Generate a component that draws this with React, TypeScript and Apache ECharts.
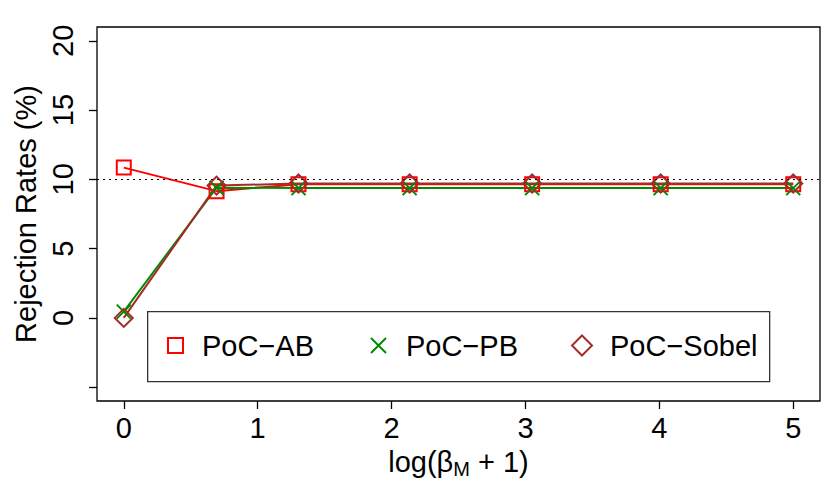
import React, { useEffect, useRef } from 'react';
import * as echarts from 'echarts';

const xValues = [0, 0.693, 1.305, 2.135, 3.05, 4.01, 5.0];
const pocAB = [10.85, 9.15, 9.65, 9.65, 9.65, 9.65, 9.65];
const pocPB = [0.45, 9.4, 9.37, 9.37, 9.37, 9.37, 9.37];
const pocSobel = [0, 9.55, 9.7, 9.7, 9.7, 9.7, 9.7];
const xTicks = [0, 1, 2, 3, 4, 5];
const yTicks = [-5, 0, 5, 10, 15, 20];
const yLabels = [0, 5, 10, 15, 20];
const refLevel = 10;
const seriesNames = ['PoC\u2212AB', 'PoC\u2212PB', 'PoC\u2212Sobel'];

const FONT = '"Liberation Sans", Arial, Helvetica, sans-serif';
const RED = '#FF0000';
const GREEN = '#008B00';
const BROWN = '#A52A2A';
const CROSS = 'path://M0,0L10,10M10,0L0,10';

const pairs = (ys: number[]) => xValues.map((x, i) => [x, ys[i]]);

const legendIcons = ['rect', CROSS, 'diamond'];
const legendColors = [RED, GREEN, BROWN];
const legendLefts = [167, 370, 571];
const legendSizes = [15, 15, 20];
const legendPads = [14, 15, 13];

export default function App() {
  const ref = useRef<HTMLDivElement>(null);
  useEffect(() => {
    if (!ref.current) return;
    const chart = echarts.init(ref.current, undefined, { renderer: 'svg' });
    const legends = seriesNames.map((name, i) => ({
      left: legendLefts[i],
      top: 331,
      orient: 'horizontal',
      padding: 0,
      itemWidth: legendSizes[i],
      itemHeight: legendSizes[i],
      selectedMode: false,
      textStyle: { fontSize: 29, color: '#000', fontFamily: FONT, padding: [0, 0, 0, legendPads[i]] },
      data: [
        {
          name,
          icon: legendIcons[i],
          itemStyle: { color: 'transparent', borderColor: legendColors[i], borderWidth: 2 },
        },
      ],
    }));
    const option: any = {
      animation: false,
      backgroundColor: '#fff',
      grid: {
        left: 97,
        top: 27,
        right: 10,
        bottom: 88,
        show: true,
        borderColor: '#000',
        borderWidth: 1.3,
        backgroundColor: 'transparent',
      },
      graphic: [
        {
          type: 'rect',
          left: 147,
          top: 311,
          z: 3,
          shape: { width: 622, height: 70 },
          style: { fill: '#fff', stroke: '#333', lineWidth: 1.3 },
        },
      ],
      xAxis: {
        type: 'value',
        min: -0.2,
        max: 5.2,
        axisLine: { show: false, onZero: false },
        splitLine: { show: false },
        axisTick: {
          show: true,
          length: 8,
          customValues: xTicks,
          lineStyle: { color: '#000', width: 1.3 },
        },
        axisLabel: {
          customValues: xTicks,
          margin: 12,
          fontSize: 29,
          color: '#000',
          fontFamily: FONT,
        },
        name: '{a|log(β}{s|M}{a| + 1)}',
        nameLocation: 'middle',
        nameGap: 44,
        nameTextStyle: {
          rich: {
            a: { fontSize: 29, fontFamily: FONT, color: '#000', lineHeight: 34, verticalAlign: 'middle' },
            s: { fontSize: 20, fontFamily: FONT, color: '#000', lineHeight: 22, verticalAlign: 'bottom' },
          },
        },
      },
      yAxis: {
        type: 'value',
        min: -6,
        max: 21,
        axisLine: { show: false, onZero: false },
        splitLine: { show: false },
        axisTick: {
          show: true,
          length: 8,
          customValues: yTicks,
          lineStyle: { color: '#000', width: 1.3 },
        },
        axisLabel: {
          customValues: yLabels,
          rotate: 90,
          margin: 20,
          fontSize: 29,
          color: '#000',
          fontFamily: FONT,
        },
        name: 'Rejection Rates (%)',
        nameLocation: 'middle',
        nameRotate: 90,
        nameGap: 52,
        nameTextStyle: { fontSize: 29, color: '#000', fontFamily: FONT },
      },
      legend: legends,
      series: [
        {
          name: seriesNames[0],
          type: 'line',
          data: pairs(pocAB),
          symbol: 'rect',
          symbolSize: 14,
          lineStyle: { color: RED, width: 2 },
          itemStyle: { color: 'transparent', borderColor: RED, borderWidth: 2 },
          markLine: {
            silent: true,
            symbol: 'none',
            label: { show: false },
            lineStyle: { type: [2, 4], color: '#000', width: 1 },
            data: [{ yAxis: refLevel }],
          },
        },
        {
          name: seriesNames[1],
          type: 'line',
          data: pairs(pocPB),
          symbol: CROSS,
          symbolSize: 14,
          lineStyle: { color: GREEN, width: 2 },
          itemStyle: { color: 'transparent', borderColor: GREEN, borderWidth: 2 },
        },
        {
          name: seriesNames[2],
          type: 'line',
          data: pairs(pocSobel),
          symbol: 'diamond',
          symbolSize: 18,
          lineStyle: { color: BROWN, width: 2 },
          itemStyle: { color: 'transparent', borderColor: BROWN, borderWidth: 2 },
        },
      ],
    };
    chart.setOption(option);
    return () => chart.dispose();
  }, []);
  return (
    <div
      ref={ref}
      style={{ position: 'fixed', left: 0, top: 0, width: 830, height: 489 }}
    />
  );
}
